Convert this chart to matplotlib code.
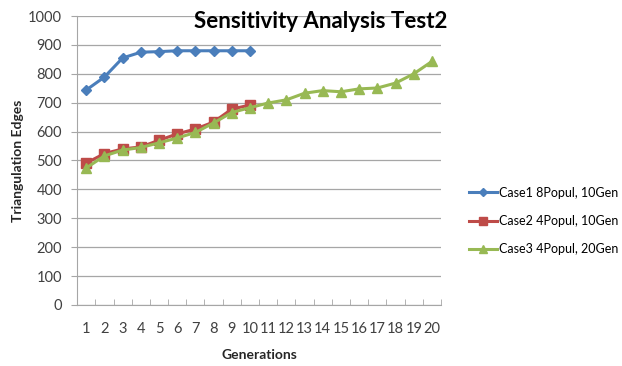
import matplotlib
matplotlib.use("Agg")
import matplotlib.pyplot as plt
import numpy as np

plt.rcParams['font.family'] = ['Lato', 'DejaVu Sans']

generations = list(range(1, 21))
case1 = [744, 789, 855, 875, 877, 880, 880, 880, 880, 880]
case2 = [491, 524, 540, 547, 570, 592, 609, 633, 678, 692]
case3 = [474, 516, 536, 545, 561, 578, 597, 630, 666, 683,
         699, 710, 733, 742, 738, 748, 751, 768, 800, 843]
labels = ['Case1 8Popul, 10Gen', 'Case2 4Popul, 10Gen', 'Case3 4Popul, 20Gen']

fig = plt.figure(figsize=(6.22, 3.66), dpi=100)
ax = fig.add_axes([0.124, 0.167, 0.585, 0.789])

grid_c = '#a6a6a6'
ax.plot(generations[:10], case1, color='#4A7EBB', lw=2.2, marker='D', ms=5.5,
        label=labels[0])
ax.plot(generations[:10], case2, color='#BE4B48', lw=2.2, marker='s', ms=7,
        label=labels[1])
ax.plot(generations, case3, color='#98B954', lw=2.2, marker='^', ms=7.5,
        label=labels[2])

ax.set_xlim(0.5, 20.5)
ax.set_ylim(0, 1000)
ax.set_yticks(np.arange(0, 1001, 100))
ax.set_xticks(generations)
ax.set_xticks(np.arange(0.5, 21, 1), minor=True)
ax.tick_params(axis='x', which='major', length=0, pad=12, labelsize=10.5, labelcolor='#404040')
ax.tick_params(axis='x', which='minor', length=4, color=grid_c, direction='in')
ax.tick_params(axis='y', length=4, color=grid_c, direction='out', labelsize=10.5,
               labelcolor='#404040', pad=7)
ax.yaxis.grid(True, color=grid_c, lw=0.9)
ax.set_axisbelow(True)
for s in ['top', 'right']:
    ax.spines[s].set_visible(False)
for s in ['left', 'bottom']:
    ax.spines[s].set_color(grid_c)

ax.set_ylabel('Triangulation Edges', fontsize=10, fontweight='bold', color='#262626')
ax.yaxis.set_label_coords(-0.145, 0.5)
ax.set_xlabel('Generations', fontsize=10, fontweight='bold', color='#262626', labelpad=10)

fig.text(0.515, 0.94, 'Sensitivity Analysis Test2', fontsize=16, fontweight='bold',
         ha='center', va='center', color='black')

leg = fig.legend(loc='center left', bbox_to_anchor=(0.736, 0.396), frameon=False,
                 fontsize=9, handlelength=2.2, labelspacing=1.3, handletextpad=0.2,
                 markerscale=0.8)

fig.savefig('out.png', dpi=100)
